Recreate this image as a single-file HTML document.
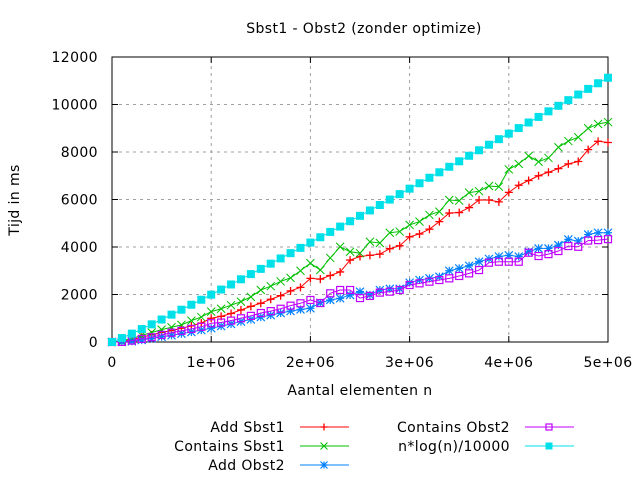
<!DOCTYPE html>
<html><head><meta charset="utf-8"><style>
body{margin:0;background:#fff}
svg text{font-family:"DejaVu Sans",sans-serif;font-size:14px;fill:#000;letter-spacing:0.4px}
</style></head><body>
<svg id="c" width="640" height="480" xmlns="http://www.w3.org/2000/svg">
<text x="364" y="33" text-anchor="middle">Sbst1 - Obst2 (zonder optimize)</text>
<text x="19" y="200" text-anchor="middle" transform="rotate(-90 19 200)">Tijd in ms</text>
<text x="360" y="395" text-anchor="middle">Aantal elementen n</text>
<g id="grid"></g><g id="series"></g><g id="legend"></g>
</svg>
<script>
const xTicks=[0,1e6,2e6,3e6,4e6,5e6];
const xTickLabels=["0","1e+06","2e+06","3e+06","4e+06","5e+06"];
const yTicks=[0,2000,4000,6000,8000,10000,12000];
const yTickLabels=["0","2000","4000","6000","8000","10000","12000"];
const nValues=[0,1,2,3,4,5,6,7,8,9,10,11,12,13,14,15,16,17,18,19,20,21,22,23,24,25,26,27,28,29,30,31,32,33,34,35,36,37,38,39,40,41,42,43,44,45,46,47,48,49,50].map(k=>k*1e5);
const addSbst1=[0,30,100,200,300,400,480,580,680,800,1000,1080,1200,1350,1500,1630,1800,1950,2150,2300,2680,2650,2800,2950,3450,3600,3650,3700,3930,4050,4430,4550,4750,5070,5430,5450,5660,5980,5980,5900,6300,6600,6800,7000,7150,7300,7500,7600,8100,8450,8400];
const containsSbst1=[0,50,150,280,400,520,620,720,900,1050,1280,1400,1550,1700,1900,2190,2350,2550,2700,3000,3320,3030,3540,4010,3800,3740,4220,4170,4600,4650,4930,5070,5350,5490,5980,5950,6290,6350,6570,6540,7270,7500,7830,7590,7750,8200,8460,8620,9000,9180,9260];
const addObst2=[0,0,30,80,150,220,280,350,420,500,580,670,760,860,950,1050,1130,1220,1300,1370,1420,1650,1770,1840,1980,2120,1980,2190,2240,2240,2500,2610,2680,2750,3000,3100,3210,3380,3500,3600,3650,3600,3800,3940,3940,4080,4320,4250,4530,4600,4600];
const containsObst2=[0,5,60,130,200,300,390,470,550,640,790,820,900,1000,1100,1220,1300,1400,1530,1630,1770,1640,2050,2190,2190,1850,1940,2080,2120,2190,2400,2470,2540,2610,2680,2780,2890,3030,3340,3380,3380,3380,3760,3620,3700,3830,4040,4010,4270,4290,4330];
const nLogN=[0,166,352,546,744,947,1152,1359,1569,1780,1993,2208,2423,2640,2859,3078,3298,3519,3741,3963,4186,4410,4635,4860,5086,5313,5540,5768,5997,6226,6456,6685,6916,7146,7378,7609,7841,8073,8306,8540,8773,9007,9242,9477,9712,9946,10183,10420,10657,10894,11127];
const X0=112,X1=608,Y0=342,Y1=57;
const sx=v=>X0+(X1-X0)*v/5e6, sy=v=>Y0-(Y0-Y1)*v/12000;
const NS="http://www.w3.org/2000/svg";
function mk(p,t,a){const e=document.createElementNS(NS,t);for(const k in a)e.setAttribute(k,a[k]);p.appendChild(e);return e;}
const grid=document.getElementById('grid');
xTicks.forEach((t,i)=>{const x=sx(t);
 if(i>0&&i<xTicks.length-1){const g=mk(grid,'line',{x1:x,y1:Y0,x2:x,y2:Y1,stroke:'#a0a0a0','stroke-dasharray':'3,4'});
 
 }
 mk(grid,'line',{x1:x,y1:Y0,x2:x,y2:Y0-6,stroke:'#000'});mk(grid,'line',{x1:x,y1:Y1,x2:x,y2:Y1+6,stroke:'#000'});
 const tx=mk(grid,'text',{x:x,y:Y0+25,'text-anchor':'middle'});tx.textContent=xTickLabels[i];
 
 });
yTicks.forEach((t,i)=>{const y=sy(t);
 if(i>0&&i<yTicks.length-1){const g=mk(grid,'line',{x1:X0,y1:y,x2:X1,y2:y,stroke:'#a0a0a0','stroke-dasharray':'3,4'});
 
 }
 mk(grid,'line',{x1:X0,y1:y,x2:X0+6,y2:y,stroke:'#000'});mk(grid,'line',{x1:X1,y1:y,x2:X1-6,y2:y,stroke:'#000'});
 const tx=mk(grid,'text',{x:X0-14,y:y+5,'text-anchor':'end'});tx.textContent=yTickLabels[i];
 
 });
const box=mk(grid,'rect',{x:X0,y:Y1,width:X1-X0,height:Y0-Y1,fill:'none',stroke:'#000'});


function marker(p,type,x,y,c,s){s=s||4;
 if(type==='plus'){mk(p,'path',{d:`M${x-s} ${y}H${x+s}M${x} ${y-s}V${y+s}`,stroke:c,'stroke-width':1.3});}
 else if(type==='cross'){mk(p,'path',{d:`M${x-s} ${y-s}L${x+s} ${y+s}M${x-s} ${y+s}L${x+s} ${y-s}`,stroke:c});}
 else if(type==='star'){mk(p,'path',{d:`M${x-s} ${y}H${x+s}M${x} ${y-s}V${y+s}M${x-s} ${y-s}L${x+s} ${y+s}M${x-s} ${y+s}L${x+s} ${y-s}`,stroke:c,'stroke-width':1.2});}
 else if(type==='box'){mk(p,'rect',{x:x-s+0.5,y:y-s+0.5,width:2*s-1,height:2*s-1,fill:'none',stroke:c,'stroke-width':1.2});}
 else {mk(p,'rect',{x:x-s,y:y-s,width:2*s,height:2*s,fill:c});}}
const seriesDefs=[
 ['add-sbst1',addSbst1,'#ff0000','plus','Add Sbst1'],
 ['contains-sbst1',containsSbst1,'#00c000','cross','Contains Sbst1'],
 ['add-obst2',addObst2,'#0080ff','star','Add Obst2'],
 ['contains-obst2',containsObst2,'#c000ff','box','Contains Obst2'],
 ['nlogn',nLogN,'#00e0e8','fbox','n*log(n)/10000']];
const sg=document.getElementById('series');
seriesDefs.forEach(([nm,vals,c,mt])=>{const g=mk(sg,'g',{});
 
 
 mk(g,'polyline',{points:vals.map((v,i)=>sx(nValues[i])+','+sy(v)).join(' '),fill:'none',stroke:c});
 vals.forEach((v,i)=>marker(g,mt,sx(nValues[i]),sy(v),c));});
const lg=document.getElementById('legend');
const pos=[[285,427],[285,446],[285,465],[510,427],[510,446]];
seriesDefs.forEach(([nm,vals,c,mt,label],i)=>{const [tx,ty]=pos[i];const g=mk(lg,'g',{});
 
 
 const t=mk(g,'text',{x:tx,y:ty+5,'text-anchor':'end'});t.textContent=label;
 mk(g,'line',{x1:tx+15,y1:ty,x2:tx+64,y2:ty,stroke:c});marker(g,mt,tx+39,ty,c,3.5);});
</script>
</body></html>
